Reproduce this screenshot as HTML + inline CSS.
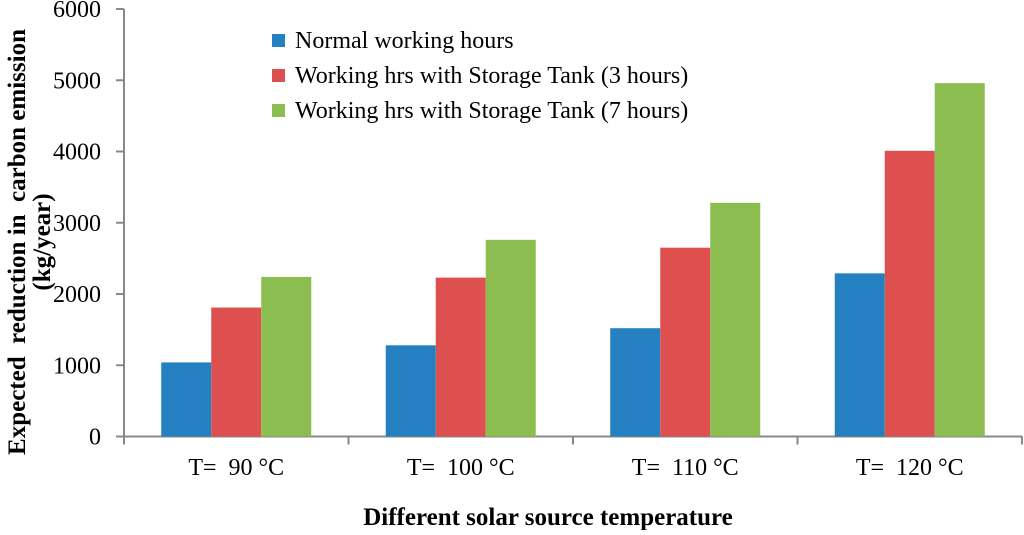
<!DOCTYPE html>
<html><head><meta charset="utf-8"><style>
body{margin:0;background:#fff;}
svg text{font-family:"Liberation Serif",serif;fill:#000;white-space:pre;}
</style></head><body>
<svg width="1024" height="530">
<g id="axes"></g><g id="bars"></g>
<g font-size="24">
 <rect x="272" y="34" width="13" height="13" fill="#2580c1"/>
 <text x="295" y="48">Normal working hours</text>
 <rect x="272" y="69" width="13" height="13" fill="#de504f"/>
 <text x="295" y="83">Working hrs with Storage Tank (3 hours)</text>
 <rect x="272" y="104" width="13" height="13" fill="#8cbd50"/>
 <text x="295" y="118">Working hrs with Storage Tank (7 hours)</text>
</g>
<text transform="translate(25,242) rotate(-90)" text-anchor="middle" font-size="25" font-weight="bold">Expected  reduction in  carbon emission</text>
<text transform="translate(50,242) rotate(-90)" text-anchor="middle" font-size="25" font-weight="bold">(kg/year)</text>
<text x="548" y="525" text-anchor="middle" font-size="25" font-weight="bold">Different solar source temperature</text>
</svg>
<script>
const categories=["T=  90 °C","T=  100 °C","T=  110 °C","T=  120 °C"];
const normal=[1040,1280,1520,2290];
const tank3=[1810,2230,2650,4010];
const tank7=[2240,2760,3280,4960];
const yTicks=[0,1000,2000,3000,4000,5000,6000];
const NS="http://www.w3.org/2000/svg";
const x0=124,x1=1022,y0=436.5,yTop=9;
const y=v=>y0-(v/6000)*(y0-yTop);
const band=(x1-x0)/categories.length;
const bw=50;
const axes=document.getElementById('axes'),bars=document.getElementById('bars');
function mk(tag,attrs,parent){const e=document.createElementNS(NS,tag);for(const k in attrs)e.setAttribute(k,attrs[k]);parent.appendChild(e);return e;}
yTicks.forEach(t=>{
 const l=mk('line',{x1:x0-8,x2:x0,y1:y(t),y2:y(t),stroke:'#888','stroke-width':2},axes);
 
 
 const tx=mk('text',{x:x0-23,y:y(t)+8,'text-anchor':'end','font-size':24},axes);
 tx.textContent=t;
 
 
});
const ya=mk('line',{x1:x0,x2:x0,y1:yTop,y2:y0,stroke:'#888','stroke-width':2},axes);


const xa=mk('line',{x1:x0,x2:x1,y1:y0,y2:y0,stroke:'#888','stroke-width':2},axes);


for(let i=0;i<=categories.length;i++){
 const xx=x0+i*band;
 const t=mk('line',{x1:xx,x2:xx,y1:y0,y2:y0+8,stroke:'#888','stroke-width':2},axes);
 
 
}
const series=[[normal,'#2580c1','normal'],[tank3,'#de504f','tank-3h'],[tank7,'#8cbd50','tank-7h']];
categories.forEach((c,i)=>{
 const cx=x0+band*(i+0.5);
 series.forEach((s,j)=>{
  const v=s[0][i];
  const r=mk('rect',{x:cx-1.5*bw+j*bw,y:y(v),width:bw,height:y0-y(v),fill:s[1]},bars);
  
  
 });
 const tx=mk('text',{x:cx,y:475,'text-anchor':'middle','font-size':24},axes);
 tx.textContent=c;
 
 
});
</script>
</body></html>
